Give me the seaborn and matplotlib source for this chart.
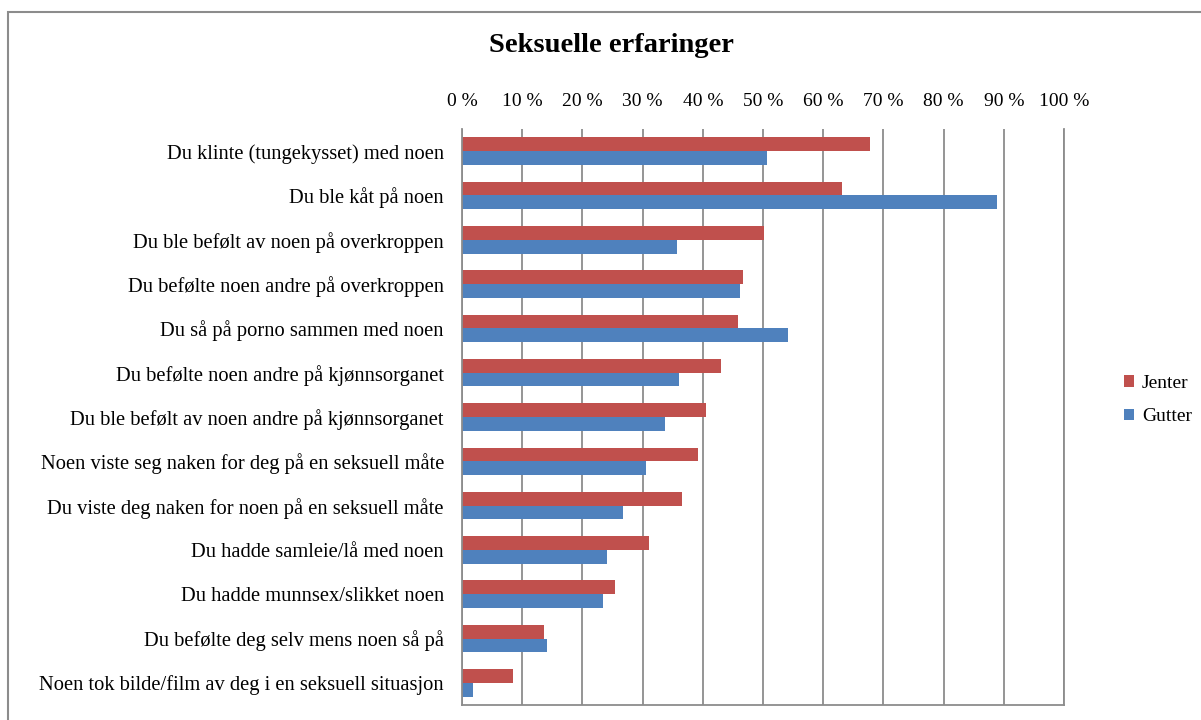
import matplotlib
matplotlib.use("Agg")
import matplotlib.pyplot as plt
import seaborn as sns
import pandas as pd
from matplotlib.patches import Rectangle, Patch
from matplotlib.ticker import FuncFormatter, MultipleLocator

categories = [
    "Du klinte (tungekysset) med noen",
    "Du ble kåt på noen",
    "Du ble befølt av noen på overkroppen",
    "Du befølte noen andre på overkroppen",
    "Du så på porno sammen med noen",
    "Du befølte noen andre på kjønnsorganet",
    "Du ble befølt av noen andre på kjønnsorganet",
    "Noen viste seg naken for deg på en seksuell måte",
    "Du viste deg naken for noen på en seksuell måte",
    "Du hadde samleie/lå med noen",
    "Du hadde munnsex/slikket noen",
    "Du befølte deg selv mens noen så på",
    "Noen tok bilde/film av deg i en seksuell situasjon",
]
jenter = [67.7, 63.1, 50.1, 46.7, 45.9, 43.1, 40.5, 39.2, 36.6, 31.1, 25.4, 13.7, 8.5]
gutter = [50.6, 88.9, 35.7, 46.2, 54.2, 36.1, 33.7, 30.6, 26.7, 24.1, 23.4, 14.2, 1.9]
series = ["Jenter", "Gutter"]
colors = ["#C0504D", "#4F81BD"]
title = "Seksuelle erfaringer"

df = pd.DataFrame({
    "kategori": categories * 2,
    "verdi": jenter + gutter,
    "kjonn": [series[0]] * len(categories) + [series[1]] * len(categories),
})

sns.set_style("white")
plt.rcParams["font.family"] = ["Liberation Serif", "DejaVu Serif"]
plt.rcParams["text.color"] = "black"
plt.rcParams["xtick.color"] = "black"
plt.rcParams["ytick.color"] = "black"

fig = plt.figure(figsize=(12.01, 7.2), dpi=100)
ax = fig.add_axes([462 / 1201, 1 - 705 / 720, (1064 - 462) / 1201, (705 - 129) / 720])

sns.barplot(data=df, y="kategori", x="verdi", hue="kjonn", hue_order=series,
            palette=colors, orient="h", width=0.62, ax=ax, legend=False,
            saturation=1, edgecolor="none")

ax.set_xlim(0, 100)
ax.xaxis.set_major_locator(MultipleLocator(10))
ax.xaxis.set_major_formatter(FuncFormatter(lambda v, p: f"{int(round(v))} %"))
ax.xaxis.tick_top()
ax.grid(axis="x", color="#8c8c8c", linewidth=1.3)
ax.set_axisbelow(True)
ax.tick_params(axis="x", length=0, pad=14, labelsize=14, labelcolor="black")
ax.tick_params(axis="y", length=0, pad=13, labelsize=14.8, labelcolor="black")
ax.set_xlabel("")
ax.set_ylabel("")
ax.spines["top"].set_visible(False)
for s in ["left", "right", "bottom"]:
    ax.spines[s].set_visible(True)
    ax.spines[s].set_color("#8c8c8c")
    ax.spines[s].set_linewidth(1.3)

fig.text(611 / 1201, 1 - 46 / 720, title, ha="center", va="center",
         fontsize=20.5, fontweight="bold", color="black")

handles = [Patch(facecolor=c, edgecolor="none") for c in colors]
fig.legend(handles, series, loc="center left", bbox_to_anchor=(1106 / 1201, 1 - 400 / 720),
           frameon=False, fontsize=14, handlelength=0.55, handleheight=0.55,
           handletextpad=0.4, labelspacing=0.85, labelcolor="black")

fig.patches.append(Rectangle((8 / 1201, -0.05), 1.2, 1.05 - 12 / 720,
                             transform=fig.transFigure, fill=False,
                             edgecolor="#8c8c8c", linewidth=1.5))

fig.savefig("out.png", dpi=100)
